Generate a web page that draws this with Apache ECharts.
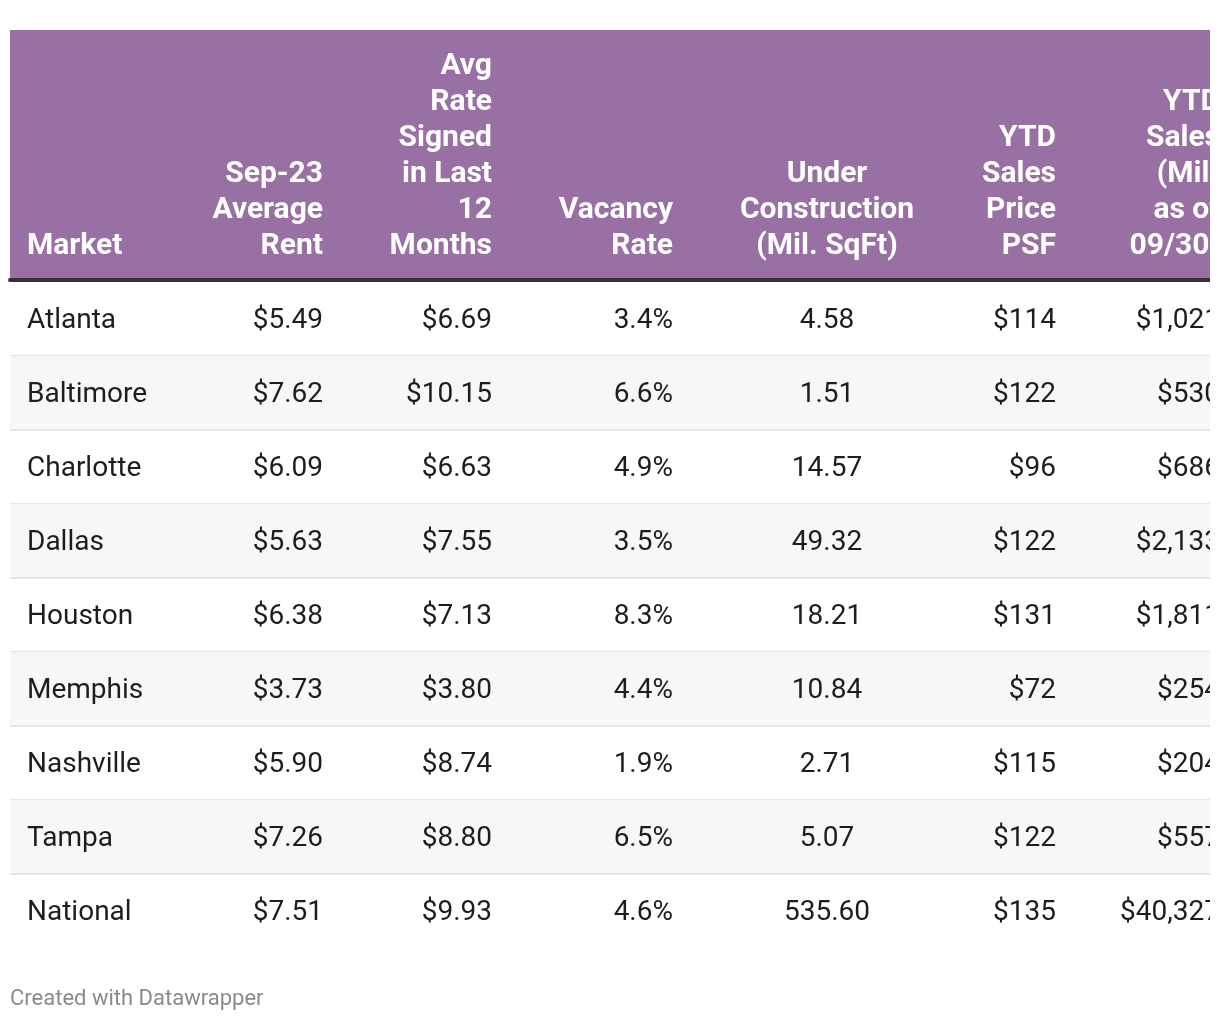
<!DOCTYPE html>
<html>
<head>
<meta charset="utf-8">
<script src="https://cdn.jsdelivr.net/npm/echarts@6/dist/echarts.min.js"></script>
<style>
  html, body { margin: 0; padding: 0; background: #ffffff; width: 1220px; height: 1022px; overflow: hidden; }
  #chart { position: absolute; left: 0; top: 0; width: 1210px; height: 1022px; }
</style>
</head>
<body>
<div id="chart"></div>
<script>
// ---- Data ----
const markets = ['Atlanta', 'Baltimore', 'Charlotte', 'Dallas', 'Houston', 'Memphis', 'Nashville', 'Tampa', 'National'];
const avgRent = [5.49, 7.62, 6.09, 5.63, 6.38, 3.73, 5.90, 7.26, 7.51];
const avgRateSigned = [6.69, 10.15, 6.63, 7.55, 7.13, 3.80, 8.74, 8.80, 9.93];
const vacancyRate = [3.4, 6.6, 4.9, 3.5, 8.3, 4.4, 1.9, 6.5, 4.6];
const underConstruction = [4.58, 1.51, 14.57, 49.32, 18.21, 10.84, 2.71, 5.07, 535.60];
const salesPricePSF = [114, 122, 96, 122, 131, 72, 115, 122, 135];
const salesVolume = [1021, 530, 686, 2133, 1811, 254, 204, 557, 40327];
const headers = [
  ['Market'],
  ['Sep-23', 'Average', 'Rent'],
  ['Avg', 'Rate', 'Signed', 'in Last', '12', 'Months'],
  ['Vacancy', 'Rate'],
  ['Under', 'Construction', '(Mil. SqFt)'],
  ['YTD', 'Sales', 'Price', 'PSF'],
  ['YTD', 'Sales', '(Mil)', 'as of', '09/30)']
];
const footerText = 'Created with Datawrapper';

// ---- Formatting ----
const money2 = v => '$' + v.toFixed(2);
const pct1 = v => v.toFixed(1) + '%';
const num2 = v => v.toFixed(2);
const money0 = v => '$' + v.toLocaleString('en-US');
const columnValues = [
  markets,
  avgRent.map(money2),
  avgRateSigned.map(money2),
  vacancyRate.map(pct1),
  underConstruction.map(num2),
  salesPricePSF.map(money0),
  salesVolume.map(money0)
];

// ---- Layout (column anchors in grid x units, 0..1200) ----
const colAnchor = [17, 313, 482, 663, 817, 1046, 1210];
const colAlign = ['left', 'right', 'right', 'right', 'center', 'right', 'right'];

const FONT = 'Roboto, "Noto Sans", sans-serif';

const cellData = [];
columnValues.forEach((vals, c) => {
  vals.forEach((t, r) => cellData.push([colAnchor[c], r, t, c]));
});
const headerData = headers.map((lines, c) => [colAnchor[c], 0, lines.join('\n'), c]);
const rowData = markets.map((m, i) => [0, i]);

const chart = echarts.init(document.getElementById('chart'), null, { renderer: 'canvas' });
chart.setOption({
  backgroundColor: '#ffffff',
  animation: false,
  grid: [
    { left: 10, top: 30, width: 1200, height: 250, show: true, backgroundColor: '#9970a4', borderWidth: 0 },
    { left: 10, top: 282, width: 1200, height: 666 }
  ],
  xAxis: [
    { gridIndex: 0, type: 'value', min: 0, max: 1200, position: 'bottom',
      axisLine: { show: true, onZero: false, lineStyle: { color: '#333333', width: 4 } },
      axisTick: { show: false }, axisLabel: { show: false }, splitLine: { show: false } },
    { gridIndex: 1, type: 'value', min: 0, max: 1200, show: false }
  ],
  yAxis: [
    { gridIndex: 0, type: 'value', min: 0, max: 1, show: false },
    { gridIndex: 1, type: 'category', data: markets, inverse: true, show: false }
  ],
  series: [
    {
      type: 'custom', xAxisIndex: 0, yAxisIndex: 0, data: headerData, silent: true,
      renderItem: (params, api) => {
        const p = api.coord([api.value(0), 0]);
        const c = api.value(3);
        return {
          type: 'text',
          style: {
            text: headers[c].join('\n'),
            x: p[0], y: p[1] - 16,
            align: colAlign[c], verticalAlign: 'bottom',
            font: 'bold 30px ' + FONT, lineHeight: 36,
            fill: '#ffffff'
          }
        };
      }
    },
    {
      type: 'custom', xAxisIndex: 1, yAxisIndex: 1, data: rowData, silent: true,
      renderItem: (params, api) => {
        const i = api.value(1);
        const center = api.coord([0, i]);
        const h = api.size([0, 1])[1];
        const right = api.coord([1200, i])[0];
        const top = center[1] - h / 2;
        const children = [];
        if (i % 2 === 1) {
          children.push({ type: 'rect', shape: { x: center[0], y: top, width: right - center[0], height: h }, style: { fill: '#f7f7f7' } });
        }
        if (i < markets.length - 1) {
          children.push({ type: 'rect', shape: { x: center[0], y: top + h - 1, width: right - center[0], height: 2 }, style: { fill: '#e6e6e6' } });
        }
        return { type: 'group', children };
      }
    },
    {
      type: 'custom', xAxisIndex: 1, yAxisIndex: 1, data: cellData, silent: true,
      renderItem: (params, api) => {
        const c = api.value(3);
        const r = api.value(1);
        const p = api.coord([api.value(0), r]);
        return {
          type: 'text',
          style: {
            text: columnValues[c][r],
            x: p[0], y: p[1] + 2,
            align: colAlign[c], verticalAlign: 'middle',
            font: '28px ' + FONT,
            fill: '#1d1d1d'
          }
        };
      }
    }
  ],
  graphic: [
    { type: 'text', left: 10, top: 988, style: { text: footerText, font: '22px ' + FONT, fill: '#8a8a8a' } }
  ]
});
</script>
</body>
</html>
